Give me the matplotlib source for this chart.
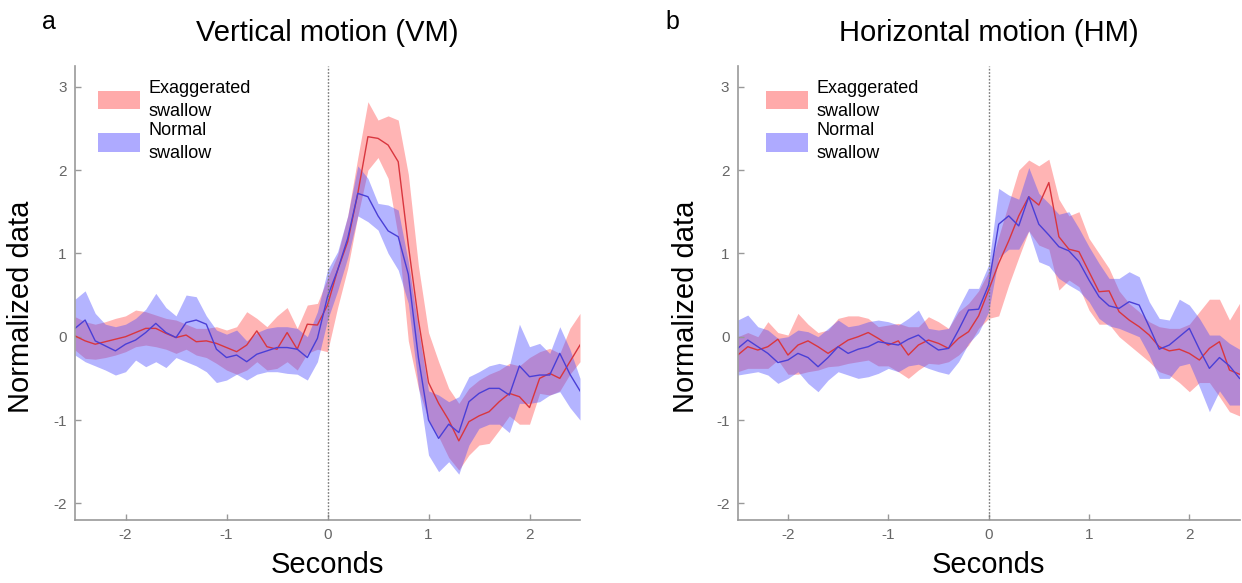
import numpy as np
import matplotlib
matplotlib.use('Agg')
from matplotlib import pyplot as plt
from matplotlib.patches import Patch

plt.rcParams['font.family'] = ['Liberation Sans', 'DejaVu Sans']
plt.rcParams['axes.unicode_minus'] = False

# time axis, 0.1 s steps from -2.5 to 2.5 s
seconds = np.round(np.arange(-25, 26) / 10.0, 2)

# ---- vertical motion (VM) ----
vm_exag_mean = [0.01, -0.05, -0.09, -0.06, -0.03, 0.0, 0.05, 0.1, 0.1, 0.04,
                -0.01, 0.02, -0.06, -0.05, -0.08, -0.13, -0.18, -0.1, 0.07, -0.12,
                -0.15, 0.05, -0.15, 0.15, 0.14, 0.38, 0.8, 1.14, 1.72, 2.4,
                2.38, 2.3, 2.1, 1.1, 0.2, -0.55, -0.8, -1.0, -1.25, -1.02,
                -0.95, -0.9, -0.78, -0.68, -0.72, -0.85, -0.5, -0.44, -0.5, -0.3,
                -0.1]
vm_exag_lo = [-0.16, -0.26, -0.27, -0.25, -0.22, -0.18, -0.12, -0.1, -0.12, -0.15,
              -0.2, -0.15, -0.22, -0.25, -0.32, -0.4, -0.45, -0.4, -0.3, -0.4,
              -0.38, -0.3, -0.4, -0.2, -0.15, -0.18, 0.35, 0.82, 1.45, 2.0,
              2.15, 1.9, 1.2, -0.05, -0.62, -1.0, -1.2, -1.45, -1.6, -1.42,
              -1.3, -1.28, -1.12, -0.95, -1.05, -1.05, -0.68, -0.7, -0.65, -0.45,
              -0.3]
vm_exag_hi = [0.24, 0.18, 0.15, 0.18, 0.22, 0.25, 0.32, 0.3, 0.26, 0.22,
              0.2, 0.15, 0.1, 0.1, 0.12, 0.08, 0.12, 0.3, 0.22, 0.12,
              0.25, 0.35, 0.1, 0.38, 0.4, 0.7, 0.98, 1.45, 2.15, 2.82,
              2.6, 2.65, 2.6, 1.95, 0.85, 0.05, -0.3, -0.62, -0.8, -0.62,
              -0.52, -0.45, -0.4, -0.32, -0.35, -0.25, -0.18, -0.14, -0.2, 0.1,
              0.28]

vm_norm_mean = [0.1, 0.2, -0.05, -0.11, -0.17, -0.09, -0.04, 0.05, 0.16, 0.05,
                -0.01, 0.17, 0.2, 0.15, -0.15, -0.25, -0.22, -0.3, -0.21, -0.17,
                -0.13, -0.13, -0.15, -0.25, -0.02, 0.48, 0.8, 1.18, 1.72, 1.68,
                1.45, 1.27, 1.2, 0.75, -0.25, -1.0, -1.22, -1.05, -1.15, -0.78,
                -0.68, -0.62, -0.62, -0.7, -0.35, -0.48, -0.46, -0.46, -0.2, -0.45,
                -0.65]
vm_norm_lo = [-0.22, -0.3, -0.35, -0.4, -0.46, -0.42, -0.28, -0.36, -0.3, -0.37,
              -0.25, -0.3, -0.35, -0.42, -0.55, -0.52, -0.45, -0.52, -0.45, -0.42,
              -0.42, -0.44, -0.45, -0.52, -0.3, 0.2, 0.55, 0.95, 1.45, 1.38,
              1.28, 1.0, 0.8, 0.4, -0.6, -1.42, -1.62, -1.5, -1.65, -1.3,
              -1.1, -1.05, -1.05, -1.15, -0.8, -0.8, -0.78, -0.7, -0.66, -0.85,
              -1.0]
vm_norm_hi = [0.45, 0.55, 0.28, 0.15, 0.12, 0.15, 0.22, 0.33, 0.52, 0.35,
              0.25, 0.5, 0.48, 0.25, 0.08, 0.03, 0.08, -0.05, 0.05, 0.1,
              0.12, 0.12, 0.1, 0.0, 0.3, 0.8, 1.02, 1.45, 2.05, 1.9,
              1.6, 1.58, 1.52, 0.9, 0.1, -0.65, -0.7, -0.78, -0.72, -0.48,
              -0.42, -0.35, -0.32, -0.35, 0.15, -0.12, -0.08, -0.2, 0.12, -0.15,
              -0.5]

# ---- horizontal motion (HM) ----
hm_exag_mean = [-0.22, -0.12, -0.16, -0.12, -0.03, -0.22, -0.1, -0.05, -0.12, -0.2,
                -0.12, -0.04, 0.0, 0.05, -0.02, -0.1, -0.05, -0.22, -0.1, -0.04,
                -0.08, -0.14, -0.02, 0.06, 0.25, 0.56, 0.88, 1.15, 1.45, 1.68,
                1.58, 1.85, 1.2, 1.05, 1.02, 0.78, 0.54, 0.55, 0.3, 0.2,
                0.12, 0.02, -0.12, -0.17, -0.15, -0.2, -0.28, -0.14, -0.06, -0.4,
                -0.45]
hm_exag_lo = [-0.42, -0.38, -0.38, -0.38, -0.28, -0.45, -0.45, -0.42, -0.4, -0.36,
              -0.35, -0.32, -0.3, -0.28, -0.35, -0.35, -0.42, -0.5, -0.4, -0.32,
              -0.33, -0.3, -0.22, -0.1, 0.1, 0.22, 0.25, 0.62, 0.95, 1.27,
              1.1, 1.05, 0.56, 0.68, 0.6, 0.32, 0.15, 0.15, 0.0, -0.1,
              -0.2, -0.3, -0.42, -0.46, -0.55, -0.66, -0.55, -0.55, -0.72, -0.9,
              -0.95]
hm_exag_hi = [0.0, 0.05, 0.0, 0.18, 0.05, 0.02, 0.28, 0.15, 0.05, 0.08,
              0.22, 0.25, 0.25, 0.22, 0.12, 0.14, 0.16, 0.12, 0.12, 0.24,
              0.18, 0.1, 0.3, 0.4, 0.55, 0.78, 1.2, 1.6, 2.0, 2.12,
              2.05, 2.13, 1.65, 1.45, 1.5, 1.18, 1.0, 0.82, 0.55, 0.4,
              0.3, 0.18, 0.12, 0.1, 0.1, 0.15, 0.3, 0.45, 0.45, 0.2,
              0.4]

hm_norm_mean = [-0.14, -0.04, -0.12, -0.2, -0.31, -0.28, -0.2, -0.25, -0.36, -0.25,
                -0.12, -0.2, -0.15, -0.12, -0.06, -0.08, -0.1, -0.03, 0.02, -0.08,
                -0.16, -0.14, 0.08, 0.32, 0.33, 0.62, 1.35, 1.45, 1.33, 1.68,
                1.35, 1.22, 1.08, 1.03, 0.9, 0.68, 0.48, 0.37, 0.34, 0.42,
                0.38, 0.12, -0.15, -0.1, 0.0, 0.1, -0.15, -0.38, -0.25, -0.35,
                -0.5]
hm_norm_lo = [-0.46, -0.44, -0.42, -0.46, -0.56, -0.5, -0.42, -0.56, -0.66, -0.52,
              -0.42, -0.46, -0.5, -0.48, -0.44, -0.38, -0.42, -0.35, -0.33, -0.38,
              -0.42, -0.45, -0.3, -0.08, 0.05, 0.3, 0.95, 1.05, 1.05, 1.27,
              0.9, 0.85, 0.7, 0.62, 0.55, 0.42, 0.22, 0.13, 0.1, 0.05,
              0.0, -0.22, -0.5, -0.5, -0.35, -0.32, -0.6, -0.9, -0.65, -0.82,
              -0.82]
hm_norm_hi = [0.2, 0.26, 0.12, 0.08, -0.02, 0.0, 0.08, 0.06, 0.0, 0.1,
              0.2, 0.12, 0.14, 0.18, 0.2, 0.18, 0.14, 0.22, 0.32, 0.1,
              0.08, 0.1, 0.35, 0.58, 0.58, 0.86, 1.78, 1.7, 1.65, 2.03,
              1.72, 1.6, 1.47, 1.5, 1.3, 1.08, 0.88, 0.7, 0.7, 0.78,
              0.72, 0.42, 0.22, 0.2, 0.45, 0.38, 0.22, 0.02, 0.02, -0.08,
              -0.15]

panels = [
    ('a', 'Vertical motion (VM)', vm_exag_mean, vm_exag_lo, vm_exag_hi,
     vm_norm_mean, vm_norm_lo, vm_norm_hi),
    ('b', 'Horizontal motion (HM)', hm_exag_mean, hm_exag_lo, hm_exag_hi,
     hm_norm_mean, hm_norm_lo, hm_norm_hi),
]

red_fill = '#ff4d4d'
blue_fill = '#4d4dff'
red_line = '#d9363e'
blue_line = '#4a3fd6'
axis_gray = '#999999'

fig = plt.figure(figsize=(12.42, 5.83), dpi=100)
ax_rects = [[0.0604, 0.108, 0.4066, 0.779], [0.594, 0.108, 0.404, 0.779]]
letter_x = [0.034, 0.536]
legend_x = [0.014, 0.024]
ylabel_x = [-0.079, -0.076]

for rect, lx, lgx, ylx, (letter, title, em, elo, ehi, nm, nlo, nhi) in zip(
        ax_rects, letter_x, legend_x, ylabel_x, panels):
    ax = fig.add_axes(rect)
    ax.fill_between(seconds, elo, ehi, color=red_fill, alpha=0.42, lw=0)
    ax.fill_between(seconds, nlo, nhi, color=blue_fill, alpha=0.42, lw=0)
    ax.plot(seconds, em, color=red_line, lw=1.0)
    ax.plot(seconds, nm, color=blue_line, lw=1.0)
    ax.axvline(0, color='#777777', ls=(0, (1.2, 1.2)), lw=1.0)

    ax.set_xlim(-2.5, 2.5)
    ax.set_ylim(-2.2, 3.25)
    ax.set_xticks([-2, -1, 0, 1, 2])
    ax.set_yticks([-2, -1, 0, 1, 2, 3])
    ax.set_xticklabels(['-2', '-1', '0', '1', '2'])
    ax.set_yticklabels(['-2', '-1', '0', '1', '2', '3'])
    for side in ['top', 'right']:
        ax.spines[side].set_visible(False)
    for side in ['left', 'bottom']:
        ax.spines[side].set_color(axis_gray)
        ax.spines[side].set_linewidth(1.2)
    ax.tick_params(direction='in', length=4, width=1, color=axis_gray,
                   labelcolor='#666666', labelsize=11, pad=6)

    ax.set_xlabel('Seconds', fontsize=21, labelpad=6)
    ax.set_ylabel('Normalized data', fontsize=21)
    ax.yaxis.set_label_coords(ylx, 0.47)
    ax.set_title(title, fontsize=21, pad=18)
    fig.text(lx, 0.962, letter, fontsize=18, ha='left', va='center')

    handles = [Patch(facecolor='#ffaaaa', edgecolor='none'),
               Patch(facecolor='#aeaaff', edgecolor='none')]
    leg = ax.legend(handles, ['Exaggerated\nswallow', 'Normal\nswallow'],
                    loc='upper left', bbox_to_anchor=(lgx, 1.005), frameon=False,
                    fontsize=13, handlelength=2.3, handleheight=1.2,
                    handletextpad=0.5, labelspacing=0.15)
    for t in leg.get_texts():
        t.set_linespacing(1.45)

fig.savefig('out.png', dpi=100)
